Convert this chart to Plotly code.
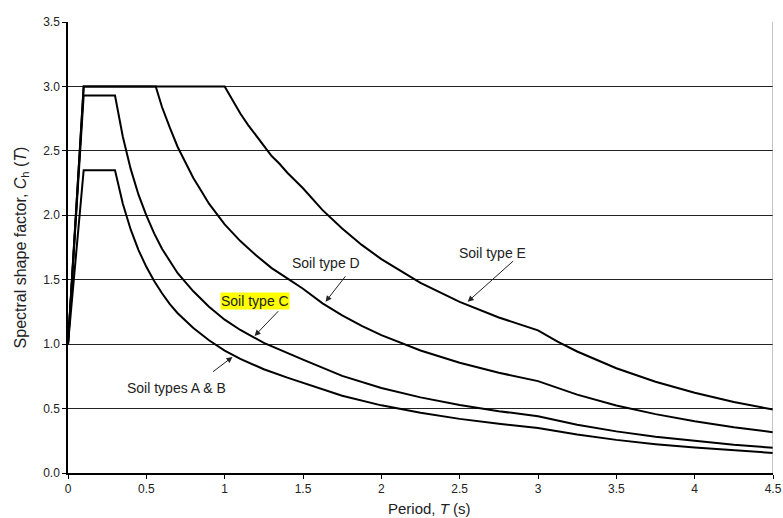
import plotly.graph_objects as go

# Period values (s) and spectral shape factor values
T_ab = [0, 0.1, 0.3, 0.35, 0.4, 0.45, 0.5, 0.55, 0.6, 0.65, 0.7, 0.8, 0.9, 1.0, 1.1, 1.25, 1.4, 1.5, 1.75, 2.0, 2.25, 2.5, 2.75, 3.0, 3.25, 3.5, 3.75, 4.0, 4.25, 4.5]
C_ab = [1.0, 2.35, 2.35, 2.09, 1.89, 1.73, 1.60, 1.49, 1.395, 1.31, 1.24, 1.125, 1.03, 0.95, 0.885, 0.805, 0.74, 0.70, 0.60, 0.525, 0.467, 0.42, 0.382, 0.35, 0.298, 0.257, 0.224, 0.197, 0.174, 0.156]

T_c = [0, 0.1, 0.3, 0.35, 0.4, 0.45, 0.5, 0.55, 0.6, 0.65, 0.7, 0.8, 0.9, 1.0, 1.1, 1.25, 1.4, 1.5, 1.75, 2.0, 2.25, 2.5, 2.75, 3.0, 3.25, 3.5, 3.75, 4.0, 4.25, 4.5]
C_c = [1.0, 2.93, 2.93, 2.61, 2.36, 2.16, 2.0, 1.86, 1.74, 1.64, 1.55, 1.41, 1.29, 1.19, 1.11, 1.01, 0.93, 0.88, 0.754, 0.66, 0.587, 0.528, 0.48, 0.44, 0.375, 0.323, 0.282, 0.248, 0.219, 0.196]

T_d = [0, 0.1, 0.56, 0.6, 0.65, 0.7, 0.75, 0.8, 0.85, 0.9, 1.0, 1.1, 1.2, 1.3, 1.4, 1.5, 1.625, 1.75, 1.875, 2.0, 2.25, 2.5, 2.75, 3.0, 3.25, 3.5, 3.75, 4.0, 4.25, 4.5]
C_d = [1.0, 3.0, 3.0, 2.84, 2.68, 2.53, 2.41, 2.29, 2.19, 2.09, 1.93, 1.80, 1.69, 1.59, 1.51, 1.43, 1.317, 1.223, 1.141, 1.07, 0.951, 0.856, 0.778, 0.713, 0.608, 0.524, 0.457, 0.401, 0.355, 0.317]

T_e = [0, 0.1, 1.0, 1.05, 1.1, 1.15, 1.2, 1.25, 1.3, 1.35, 1.4, 1.45, 1.5, 1.625, 1.75, 1.875, 2.0, 2.25, 2.5, 2.75, 3.0, 3.125, 3.25, 3.5, 3.75, 4.0, 4.25, 4.5]
C_e = [1.0, 3.0, 3.0, 2.89, 2.79, 2.70, 2.62, 2.54, 2.46, 2.40, 2.33, 2.27, 2.21, 2.04, 1.897, 1.77, 1.66, 1.476, 1.328, 1.207, 1.107, 1.02, 0.943, 0.813, 0.708, 0.623, 0.551, 0.492]

x_ticks = [0, 0.5, 1, 1.5, 2, 2.5, 3, 3.5, 4, 4.5]
x_tick_text = ["0", "0.5", "1", "1.5", "2", "2.5", "3", "3.5", "4", "4.5"]
y_ticks = [0.0, 0.5, 1.0, 1.5, 2.0, 2.5, 3.0, 3.5]

# labels: (text, text_x, text_y, arrow_tail_x, arrow_tail_y, arrow_head_x, arrow_head_y, highlight)
labels = [
    ("Soil type E", 2.711, 1.709, 2.851, 1.655, 2.551, 1.329, False),
    ("Soil type D", 1.644, 1.632, 1.778, 1.538, 1.644, 1.329, False),
    ("Soil type C", 1.191, 1.336, 1.351, 1.267, 1.191, 1.064, True),
    ("Soil types A &amp; B", 0.693, 0.660, 0.916, 0.777, 1.050, 0.901, False),
]

FONT = "Liberation Sans, Arial, sans-serif"

fig = go.Figure()
for T, C in [(T_ab, C_ab), (T_c, C_c), (T_d, C_d), (T_e, C_e)]:
    fig.add_trace(go.Scatter(x=T, y=C, mode="lines",
                             line=dict(color="black", width=2),
                             showlegend=False, hoverinfo="skip"))

annotations = []
for text, tx, ty, ax_, ay_, hx, hy, hl in labels:
    annotations.append(dict(x=tx, y=ty, xref="x", yref="y", text=text, showarrow=False,
                            font=dict(family=FONT, size=14, color="#222"),
                            bgcolor="#ffff00" if hl else "rgba(0,0,0,0)", borderpad=0))
    annotations.append(dict(x=hx, y=hy, xref="x", yref="y", ax=ax_, ay=ay_, axref="x", ayref="y",
                            text="", showarrow=True, arrowhead=2, arrowsize=1.2, arrowwidth=1,
                            arrowcolor="#222"))

annotations.append(dict(x=0.513, y=-0.055, xref="paper", yref="paper", yanchor="top",
                        text="Period, <i>T</i> (s)", showarrow=False,
                        font=dict(family=FONT, size=15, color="#222")))

fig.update_layout(
    width=783, height=518,
    margin=dict(l=68, r=10, t=22, b=45),
    paper_bgcolor="white", plot_bgcolor="white",
    font=dict(family=FONT, size=12, color="#222"),
    annotations=annotations,
    xaxis=dict(range=[0, 4.5], tickvals=x_ticks, ticktext=x_tick_text, automargin=False,
               showgrid=False, zeroline=False, showline=True, linecolor="black", linewidth=1.5,
               ticks="outside", ticklen=4, tickcolor="black",
               tickfont=dict(size=12, family=FONT)),
    yaxis=dict(range=[0, 3.5], tickvals=y_ticks, tickformat=".1f", automargin=False,
               showgrid=True, gridcolor="#222", gridwidth=1, zeroline=False,
               showline=True, linecolor="black", linewidth=1.5,
               ticks="outside", ticklen=4, tickcolor="black",
               tickfont=dict(size=12, family=FONT),
               title=dict(text="Spectral shape factor, <i>C</i><sub>h</sub> (<i>T</i>)",
                          font=dict(size=16, family=FONT), standoff=13)),
    shapes=[dict(type="line", xref="x", yref="y", x0=4.5, x1=4.5, y0=0, y1=3.5,
                 line=dict(color="#888", width=1))],
)

fig.write_html("out.html")
